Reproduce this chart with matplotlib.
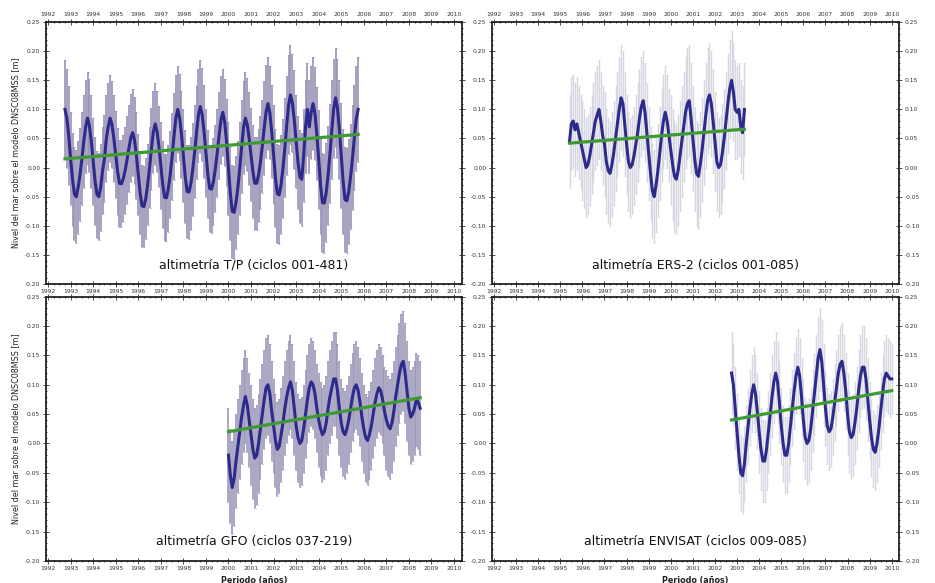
import numpy as np
import matplotlib
matplotlib.use("Agg")
import matplotlib.pyplot as plt
from matplotlib.ticker import MultipleLocator, FormatStrFormatter

plt.rcParams['axes.unicode_minus'] = False
plt.rcParams['font.family'] = ['DejaVu Sans']

inicio_tp = 1992.75
nivel_tp = [
    0.100,
    0.085, 0.055, 0.015, -0.020, -0.045, -0.050, -0.034, -0.012, 0.015, 0.045, 0.070, 0.085,
    0.072, 0.045, 0.011, -0.023, -0.046, -0.050, -0.034, -0.005, 0.015, 0.050, 0.070, 0.085,
    0.074, 0.050, 0.022, -0.007, -0.027, -0.028, -0.019, -0.005, 0.013, 0.033, 0.051, 0.060,
    0.047, 0.021, -0.012, -0.044, -0.066, -0.067, -0.053, -0.029, 0.000, 0.032, 0.061, 0.075,
    0.062, 0.036, 0.004, -0.029, -0.051, -0.052, -0.036, -0.012, 0.019, 0.054, 0.085, 0.100,
    0.086, 0.057, 0.020, -0.016, -0.041, -0.042, -0.027, -0.003, 0.027, 0.060, 0.090, 0.105,
    0.091, 0.062, 0.025, -0.011, -0.036, -0.037, -0.024, -0.002, 0.025, 0.055, 0.082, 0.095,
    0.078, 0.043, -0.001, -0.045, -0.075, -0.077, -0.060, -0.034, -0.001, 0.036, 0.069, 0.085,
    0.074, 0.050, 0.022, -0.007, -0.027, -0.027, -0.013, 0.009, 0.037, 0.068, 0.096, 0.110,
    0.094, 0.062, 0.022, -0.018, -0.045, -0.047, -0.029, -0.001, 0.034, 0.073, 0.108, 0.125,
    0.111, 0.082, 0.045, 0.009, -0.016, -0.020, 0.020, 0.070, 0.100, 0.070, 0.095, 0.110,
    0.093, 0.058, 0.014, -0.030, -0.060, -0.061, -0.043, -0.013, 0.024, 0.065, 0.102, 0.120,
    0.102, 0.066, 0.021, -0.024, -0.055, -0.057, -0.041, -0.015, 0.017, 0.052, 0.084, 0.100,
]
anios_error_tp = 1992
error_tp = [0.085, 0.08, 0.075, 0.075, 0.07, 0.075, 0.08, 0.075, 0.08, 0.08, 0.085, 0.08, 0.085, 0.09]
tendencia_tp = [0.015, 0.057]

# ---- ERS-2 (ciclos 001-085)
inicio_ers = 1995.417
nivel_ers = [
    0.045, 0.075, 0.080, 0.065, 0.075, 0.060, 0.045,
    0.030, 0.015, 0.000, 0.005, 0.020, 0.040, 0.060, 0.080, 0.090, 0.100, 0.080, 0.055,
    0.040, 0.010, -0.005, -0.010, 0.005, 0.025, 0.050, 0.075, 0.100, 0.120, 0.110, 0.075,
    0.040, 0.010, 0.000, 0.005, 0.020, 0.040, 0.060, 0.085, 0.105, 0.115, 0.095, 0.060,
    0.025, -0.010, -0.040, -0.050, -0.030, -0.005, 0.025, 0.055, 0.080, 0.095, 0.080, 0.055,
    0.030, 0.005, -0.015, -0.020, -0.005, 0.020, 0.045, 0.070, 0.095, 0.110, 0.115, 0.085,
    0.050, 0.015, -0.010, -0.015, 0.005, 0.030, 0.060, 0.090, 0.115, 0.125, 0.110, 0.080,
    0.045, 0.010, 0.000, 0.005, 0.025, 0.050, 0.080, 0.110, 0.135, 0.150, 0.130, 0.100,
    0.095, 0.100, 0.070, 0.060, 0.100,
]
anios_error_ers = 1995
error_ers = [0.08, 0.085, 0.09, 0.085, 0.08, 0.095, 0.09, 0.085, 0.08]
tendencia_ers = [0.042, 0.066]

# ---- GFO (ciclos 037-219)
inicio_gfo = 2000.0
nivel_gfo = [
    -0.020, -0.055, -0.075, -0.060, -0.030, -0.005, 0.020, 0.045, 0.065, 0.080, 0.065, 0.040,
    0.015, -0.010, -0.025, -0.020, 0.000, 0.025, 0.050, 0.075, 0.095, 0.100, 0.085, 0.055,
    0.030, 0.005, -0.010, -0.005, 0.015, 0.035, 0.060, 0.080, 0.095, 0.105, 0.090, 0.060,
    0.030, 0.010, 0.000, 0.005, 0.025, 0.050, 0.075, 0.095, 0.105, 0.100, 0.085, 0.060,
    0.040, 0.025, 0.015, 0.020, 0.035, 0.060, 0.080, 0.095, 0.110, 0.110, 0.090, 0.060,
    0.035, 0.020, 0.015, 0.025, 0.040, 0.060, 0.080, 0.095, 0.100, 0.090, 0.070, 0.045,
    0.025, 0.010, 0.005, 0.015, 0.030, 0.050, 0.070, 0.085, 0.095, 0.090, 0.075, 0.055,
    0.040, 0.030, 0.025, 0.035, 0.055, 0.080, 0.100, 0.120, 0.135, 0.140, 0.120, 0.090,
    0.060, 0.045, 0.050, 0.060, 0.075, 0.070, 0.060,
]
anios_error_gfo = 2000
error_gfo = [0.08, 0.085, 0.08, 0.075, 0.08, 0.075, 0.075, 0.085, 0.08]
tendencia_gfo = [0.020, 0.078]

# ---- ENVISAT (ciclos 009-085)
inicio_env = 2002.75
nivel_env = [
    0.120, 0.100, 0.060,
    0.020, -0.020, -0.050, -0.055, -0.035, 0.000, 0.030, 0.060, 0.085, 0.100, 0.085, 0.055,
    0.020, -0.010, -0.030, -0.030, -0.010, 0.020, 0.050, 0.080, 0.105, 0.120, 0.105, 0.070,
    0.030, 0.000, -0.020, -0.020, 0.000, 0.030, 0.060, 0.090, 0.115, 0.130, 0.115, 0.080,
    0.040, 0.010, 0.000, 0.005, 0.025, 0.055, 0.085, 0.115, 0.145, 0.160, 0.140, 0.100,
    0.060, 0.030, 0.020, 0.025, 0.045, 0.070, 0.095, 0.120, 0.135, 0.140, 0.120, 0.090,
    0.050, 0.020, 0.010, 0.015, 0.035, 0.060, 0.090, 0.115, 0.130, 0.130, 0.110, 0.075,
    0.040, 0.010, -0.010, -0.015, 0.000, 0.025, 0.055, 0.085, 0.110, 0.120, 0.115, 0.110,
    0.110,
]
anios_error_env = 2002
error_env = [0.07, 0.065, 0.07, 0.065, 0.07, 0.065, 0.07, 0.065, 0.06]
tendencia_env = [0.040, 0.090]

titulos = [
    "altimetría T/P (ciclos 001-481)",
    "altimetría ERS-2 (ciclos 001-085)",
    "altimetría GFO (ciclos 037-219)",
    "altimetría ENVISAT (ciclos 009-085)",
]
etiqueta_y = "Nivel del mar sobre el modelo DNSC08MSS [m]"
etiqueta_x = "Periodo (años)"


def dibujar_panel(ax, inicio, nivel, anio_err, error, tendencia, titulo, color_barras, grosor):
    nivel = np.array(nivel)
    t = inicio + np.arange(len(nivel)) / 12
    err = np.array(error)[t.astype(int) - anio_err]

    ax.errorbar(t, nivel, yerr=err, fmt='none', ecolor=color_barras,
                elinewidth=grosor, capsize=1.0, capthick=0.5, zorder=1)
    ax.plot(t, nivel, color='#2d2a8c', lw=2.2, zorder=3)
    ax.plot([t[0], t[-1]], tendencia, color='#3f9a34', lw=2.3, zorder=4)

    ax.set_xlim(1991.9, 2010.35)
    ax.set_ylim(-0.20, 0.25)
    ax.xaxis.set_major_locator(MultipleLocator(1))
    ax.xaxis.set_minor_locator(MultipleLocator(0.25))
    ax.yaxis.set_major_locator(MultipleLocator(0.05))
    ax.yaxis.set_minor_locator(MultipleLocator(0.01))
    ax.yaxis.set_major_formatter(FormatStrFormatter('%.2f'))
    ax.tick_params(which='both', direction='inout', top=True, right=True,
                   width=0.6, labelsize=4.3, pad=2, colors='#333333')
    ax.tick_params(which='major', length=4)
    ax.tick_params(which='minor', length=2)
    for s in ax.spines.values():
        s.set_linewidth(1.3)
        s.set_color('#222222')
    ax.text(0.5, 0.072, titulo, transform=ax.transAxes, ha='center', va='center',
            fontsize=9, color='#111111')


fig = plt.figure(figsize=(9.35, 5.83), dpi=100)
ax_tp = fig.add_axes([0.049, 0.513, 0.445, 0.449])
ax_ers = fig.add_axes([0.526, 0.513, 0.436, 0.449])
ax_gfo = fig.add_axes([0.049, 0.038, 0.445, 0.453])
ax_env = fig.add_axes([0.526, 0.038, 0.436, 0.453])

dibujar_panel(ax_tp, inicio_tp, nivel_tp, anios_error_tp, error_tp, tendencia_tp, titulos[0], '#9890b4', 1.2)
dibujar_panel(ax_ers, inicio_ers, nivel_ers, anios_error_ers, error_ers, tendencia_ers, titulos[1], '#d6d6e0', 1.0)
dibujar_panel(ax_gfo, inicio_gfo, nivel_gfo, anios_error_gfo, error_gfo, tendencia_gfo, titulos[2], '#9d97b8', 1.2)
dibujar_panel(ax_env, inicio_env, nivel_env, anios_error_env, error_env, tendencia_env, titulos[3], '#d8d8e2', 1.0)

for ax in (ax_tp, ax_ers):
    ax.tick_params(labeltop=True, labelbottom=True)
for ax in (ax_ers, ax_env):
    ax.tick_params(labelleft=True, labelright=True)
for ax in (ax_tp, ax_gfo):
    ax.set_ylabel(etiqueta_y, fontsize=5.8, labelpad=3, color='#222222')
for ax in (ax_gfo, ax_env):
    ax.set_xlabel(etiqueta_x, fontsize=5.8, fontweight='bold', labelpad=3, color='#222222')

fig.savefig("out.png", dpi=100)
